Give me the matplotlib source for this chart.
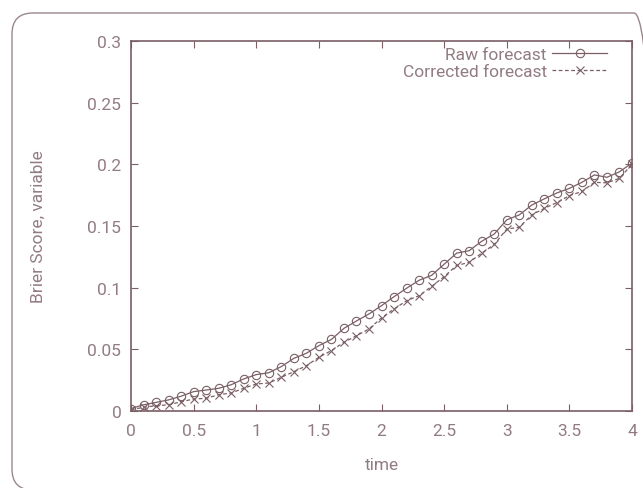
import matplotlib
matplotlib.use("Agg")
import matplotlib.pyplot as plt
from matplotlib.patches import FancyBboxPatch
from matplotlib.transforms import IdentityTransform

plt.rcParams['font.family'] = ['Roboto', 'DejaVu Sans']

# data
time = [i / 10 for i in range(41)]
raw = [0.002, 0.005, 0.007, 0.009, 0.012, 0.0157, 0.017, 0.0184, 0.0213, 0.026,
       0.0295, 0.031, 0.036, 0.0427, 0.0468, 0.053, 0.058, 0.067, 0.073, 0.0787,
       0.0854, 0.0927, 0.0995, 0.106, 0.110, 0.119, 0.128, 0.130, 0.1376, 0.1435,
       0.155, 0.159, 0.167, 0.172, 0.1768, 0.1805, 0.1854, 0.1914, 0.1895, 0.194,
       0.201]
corrected = [0.001, 0.003, 0.0043, 0.005, 0.0075, 0.0097, 0.0103, 0.0132, 0.0146, 0.0184,
             0.0219, 0.0227, 0.0273, 0.0319, 0.0367, 0.0435, 0.049, 0.0557, 0.061, 0.0665,
             0.0755, 0.0827, 0.0894, 0.0935, 0.101, 0.109, 0.118, 0.1205, 0.128, 0.135,
             0.1475, 0.149, 0.159, 0.1643, 0.169, 0.1746, 0.178, 0.1854, 0.185, 0.1887,
             0.200]
xticks = [0, 0.5, 1, 1.5, 2, 2.5, 3, 3.5, 4]
xlabels = ['0', '0.5', '1', '1.5', '2', '2.5', '3', '3.5', '4']
yticks = [0, 0.05, 0.1, 0.15, 0.2, 0.25, 0.3]
ylabels = ['0', '0.05', '0.1', '0.15', '0.2', '0.25', '0.3']

line_c = '#7a5f65'
text_c = '#927c81'
W, H = 643, 489

fig = plt.figure(figsize=(W / 100, H / 100), dpi=100)

# rounded frame around the whole chart (pixel coordinates, origin bottom-left)
frame = FancyBboxPatch((12, H - 491), 655 - 12, 491 - 14,
                       boxstyle='round,pad=0,rounding_size=21',
                       transform=IdentityTransform(), fill=False,
                       edgecolor='#9a878c', linewidth=1.0)
fig.patches.append(frame)

ax = fig.add_axes([131 / W, 1 - 412 / H, (632 - 131) / W, (412 - 42) / H])

ax.plot(time, raw, color=line_c, lw=0.9, marker='o', ms=6, mfc='none',
        mec=line_c, mew=0.8, label='Raw forecast')
ax.plot(time, corrected, color=line_c, lw=0.9, ls=(0, (3, 2)), marker='x', ms=6,
        mec=line_c, mew=0.8, label='Corrected forecast')

ax.set_xlim(0, 4)
ax.set_ylim(0, 0.3)
ax.set_xticks(xticks)
ax.set_xticklabels(xlabels)
ax.set_yticks(yticks)
ax.set_yticklabels(ylabels)
ax.tick_params(direction='in', length=5, width=0.8, color=line_c, labelcolor=text_c,
               labelsize=12.5, top=True, right=True, pad=7)
ax.tick_params(axis='x', pad=9)
for s in ax.spines.values():
    s.set_color(line_c)
    s.set_linewidth(1.2)

ax.set_xlabel('time', color=text_c, fontsize=12.5, labelpad=13)
ax.set_ylabel('Brier Score, variable', color=text_c, fontsize=12.5, labelpad=30)

leg = ax.legend(loc='upper right', bbox_to_anchor=(0.951, 0.985), frameon=False,
                markerfirst=False, numpoints=1, handlelength=3.2, handletextpad=0.3,
                borderpad=0, borderaxespad=0, labelspacing=0.15, fontsize=12.5)
for t in leg.get_texts():
    t.set_color(text_c)

fig.savefig('out.png', dpi=100)
